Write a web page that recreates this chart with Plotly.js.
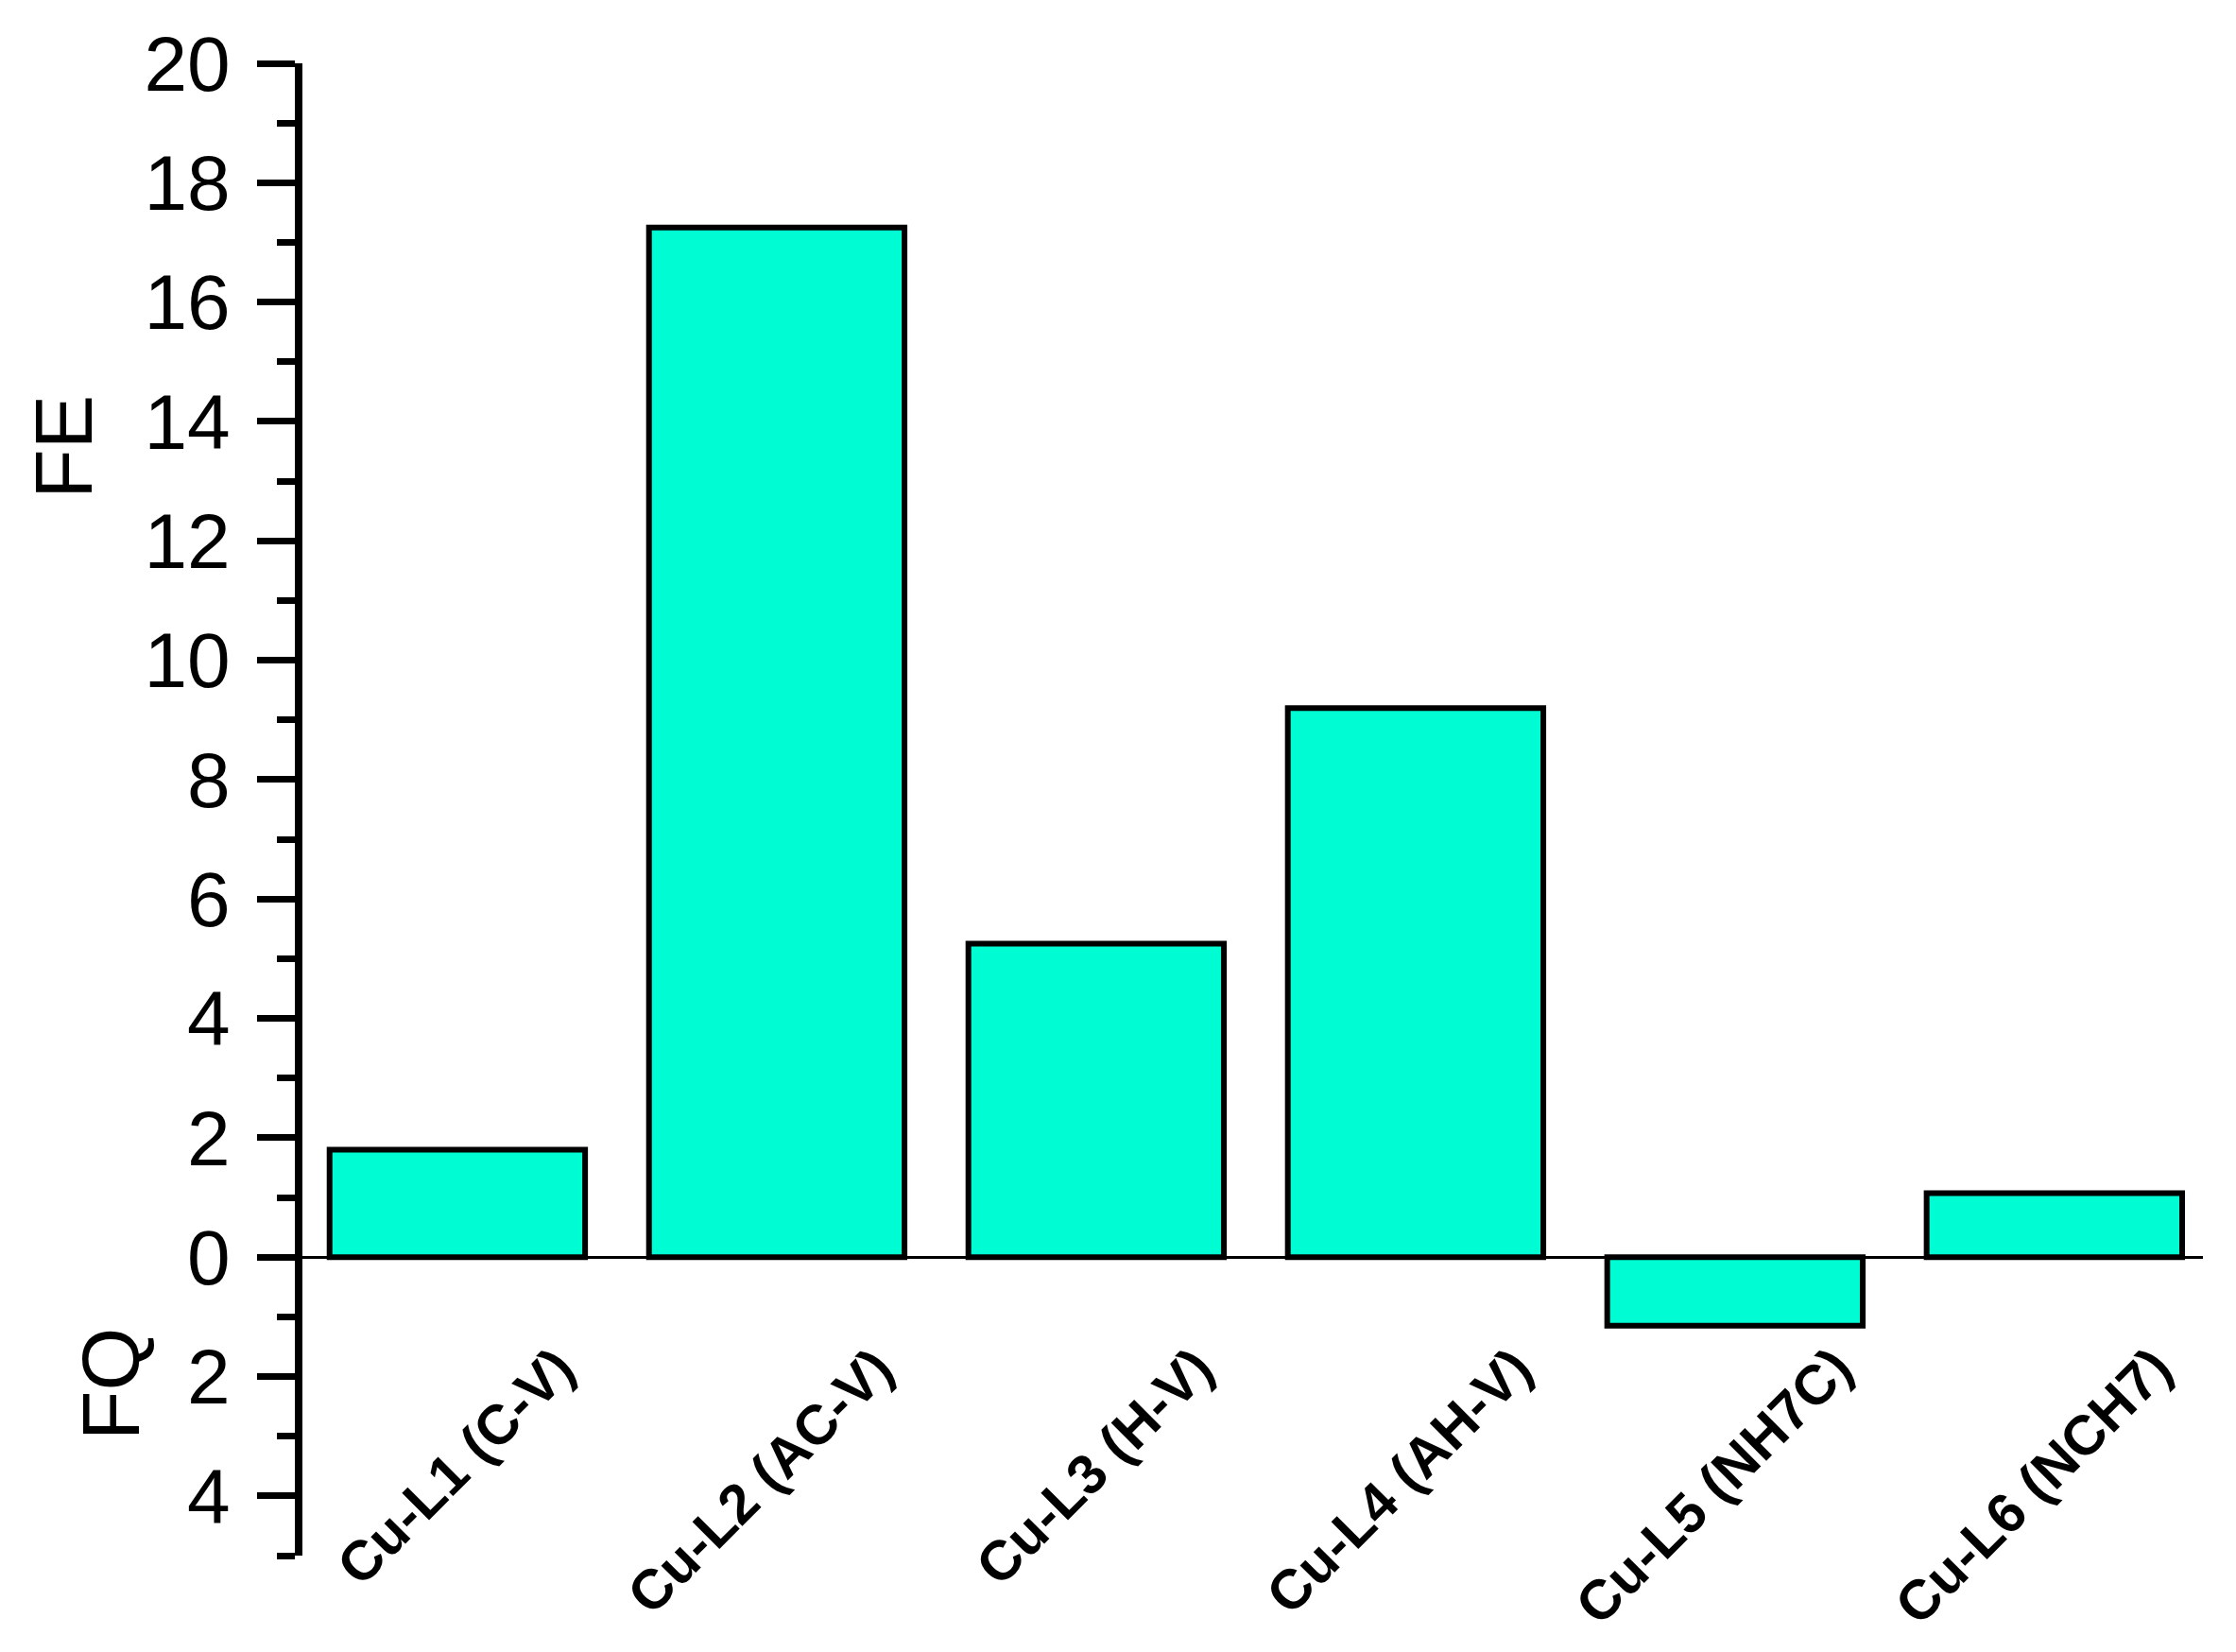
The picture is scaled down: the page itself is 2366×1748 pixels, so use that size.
<!DOCTYPE html>
<html>
<head>
<meta charset="utf-8">
<script src="https://cdn.plot.ly/plotly-3.0.1.min.js"></script>
<style>
  html, body { margin: 0; padding: 0; background: #ffffff; }
  #chart { width: 2366px; height: 1748px; }
</style>
</head>
<body>
<div id="chart"></div>
<script>
// ---- data ----
const categories = ['Cu-L1 (C-V)', 'Cu-L2 (AC-V)', 'Cu-L3 (H-V)', 'Cu-L4 (AH-V)', 'Cu-L5 (NH7C)', 'Cu-L6 (NCH7)'];
const values = [1.8, 17.25, 5.25, 9.2, -1.15, 1.07];   // FE positive, FQ negative
const yTickVals = [-4, -2, 0, 2, 4, 6, 8, 10, 12, 14, 16, 18, 20];
const yTickText = ['4', '2', '0', '2', '4', '6', '8', '10', '12', '14', '16', '18', '20'];
const yMinorVals = [-5, -3, -1, 1, 3, 5, 7, 9, 11, 13, 15, 17, 19];
const yTitleUp = 'FE';
const yTitleDown = 'FQ';

const FONT = 'Liberation Sans, Arial, Helvetica, sans-serif';

const trace = {
  type: 'bar',
  x: categories,
  y: values,
  marker: {
    color: 'rgb(0,252,210)',
    line: { color: '#000000', width: 6 }
  },
  hoverinfo: 'skip'
};

const annotations = categories.map(c => ({
  x: c, xref: 'x',
  y: 0, yref: 'y',
  text: c,
  showarrow: false,
  textangle: -45,
  xanchor: 'right', yanchor: 'top',
  xshift: 139, yshift: -81,
  font: { family: FONT, size: 59, color: '#000', weight: 'bold' }
}));

annotations.push({
  x: -0.1255, xref: 'paper',
  y: 13.57, yref: 'y',
  text: yTitleUp, showarrow: false, textangle: -90,
  xanchor: 'center', yanchor: 'middle',
  font: { family: FONT, size: 86, color: '#000' }
});
annotations.push({
  x: -0.1010, xref: 'paper',
  y: -2.12, yref: 'y',
  text: yTitleDown, showarrow: false, textangle: -90,
  xanchor: 'center', yanchor: 'middle',
  font: { family: FONT, size: 86, color: '#000' }
});

const layout = {
  width: 2366,
  height: 1748,
  paper_bgcolor: '#ffffff',
  plot_bgcolor: '#ffffff',
  showlegend: false,
  bargap: 0.2,
  margin: { l: 320, r: 35, t: 67, b: 102 },
  font: { family: FONT, color: '#000' },
  xaxis: {
    type: 'category',
    range: [-0.485, 5.465],
    showline: false,
    showgrid: false,
    zeroline: false,
    ticks: '',
    showticklabels: false,
    fixedrange: true
  },
  yaxis: {
    range: [-5, 20],
    showline: true,
    linecolor: '#000',
    linewidth: 8,
    showgrid: false,
    zeroline: true,
    zerolinecolor: '#000',
    zerolinewidth: 3,
    tickmode: 'array',
    tickvals: yTickVals,
    ticktext: yTickText,
    ticks: 'outside',
    ticklen: 40,
    tickwidth: 7,
    tickcolor: '#000',
    ticklabelstandoff: 12,
    tickfont: { family: FONT, size: 82, color: '#000' },
    minor: {
      tickmode: 'array',
      tickvals: yMinorVals,
      ticks: 'outside',
      ticklen: 19,
      tickwidth: 7,
      tickcolor: '#000',
      showgrid: false
    },
    fixedrange: true
  },
  annotations: annotations
};

Plotly.newPlot('chart', [trace], layout, { displayModeBar: false, staticPlot: true });
</script>
</body>
</html>
